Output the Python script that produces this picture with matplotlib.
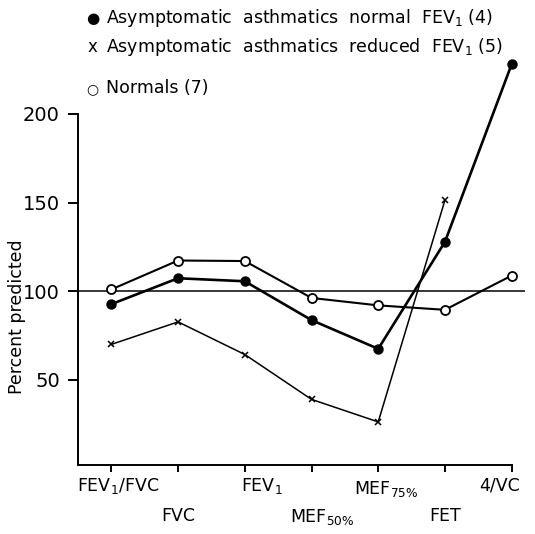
import numpy as np
import matplotlib.pyplot as plt

# measurements along the x axis (tick positions 0..6)
labels = ['FEV$_1$/FVC', 'FVC', 'FEV$_1$', 'MEF$_{50\\%}$', 'MEF$_{75\\%}$', 'FET', '4/VC']

# percent predicted
normal_fev1 = [92.7, 107.3, 105.6, 83.7, 67.5, 127.8, 228.0]
reduced_fev1 = [70.0, 82.7, 64.3, 39.0, 26.3, 151.3]
normals = [101.0, 117.3, 117.0, 96.2, 92.0, 89.5, 108.8]

x_all = np.arange(len(labels))

fig = plt.figure(figsize=(5.35, 5.34), dpi=100)
ax = fig.add_axes([78 / 535, 1 - 465 / 534, (525 - 78) / 535, (465 - 50) / 534])

ax.axhline(100, color='black', lw=1.1, zorder=1)

ax.plot(x_all, normal_fev1, '-o', color='black', lw=1.9, ms=6.5,
        mfc='black', mec='black', zorder=3, clip_on=False)
ax.plot(x_all[:len(reduced_fev1)], reduced_fev1, '-x', color='black', lw=1.1,
        ms=5, mew=1.1, zorder=2, clip_on=False)
ax.plot(x_all, normals, '-o', color='black', lw=1.5, ms=6.5,
        mfc='white', mec='black', mew=1.3, zorder=4, clip_on=False)

ax.set_xlim(-0.5, 6.2)
ax.set_ylim(2, 236)

for s in ['top', 'right']:
    ax.spines[s].set_visible(False)
ax.spines['left'].set_bounds(2, 200)
ax.spines['bottom'].set_bounds(-0.5, 6)
ax.spines['left'].set_linewidth(1.4)
ax.spines['bottom'].set_linewidth(1.4)

ax.set_yticks([50, 100, 150, 200])
ax.set_yticklabels(['50', '100', '150', '200'], fontsize=14)
ax.tick_params(axis='y', length=7, width=1.4, pad=6)
ax.set_xticks(x_all)
ax.set_xticklabels([])
ax.tick_params(axis='x', length=5, width=1.4)

fig.text(17 / 535, 1 - 317 / 534, 'Percent predicted', fontsize=12.5,
         rotation=90, ha='center', va='center')

# staggered tick labels: (horizontal offset px, vertical offset px, ha)
offsets = [(-34, -11, 'left'), (0, -42, 'center'), (-4, -11, 'left'),
           (-22, -42, 'left'), (-24, -14, 'left'), (0, -42, 'center'),
           (8, -11, 'right')]
for xi, lab, (dx, dy, ha) in zip(x_all, labels, offsets):
    ax.annotate(lab, xy=(xi, 0), xycoords=('data', 'axes fraction'),
                xytext=(dx, dy), textcoords='offset pixels',
                ha=ha, va='top', fontsize=12.5)

# key at the top
fig.text(86 / 535, 1 - 23 / 534, '\u25cf', fontsize=11, va='baseline')
fig.text(106 / 535, 1 - 23 / 534, 'Asymptomatic  asthmatics  normal  FEV$_1$ (4)',
         fontsize=12.5, va='baseline')
fig.text(88 / 535, 1 - 52 / 534, 'x', fontsize=12, va='baseline')
fig.text(106 / 535, 1 - 52 / 534, 'Asymptomatic  asthmatics  reduced  FEV$_1$ (5)',
         fontsize=12.5, va='baseline')
fig.text(86 / 535, 1 - 93 / 534, '\u25cb', fontsize=10, va='baseline')
fig.text(106 / 535, 1 - 93 / 534, 'Normals (7)', fontsize=12.5, va='baseline')

fig.savefig('out.png', dpi=100)
